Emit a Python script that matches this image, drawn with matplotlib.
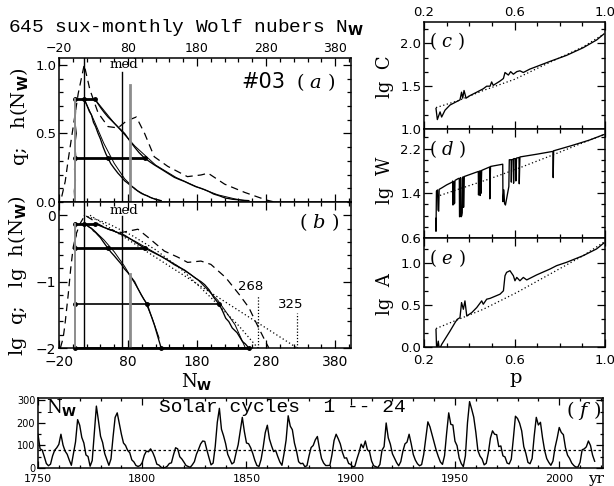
import numpy as np
import matplotlib
matplotlib.use("Agg")
import matplotlib.pyplot as plt
from matplotlib.ticker import FixedLocator, MultipleLocator

plt.rcParams["font.family"] = "DejaVu Sans"
plt.rcParams["mathtext.fontset"] = "custom"
plt.rcParams["mathtext.rm"] = "DejaVu Serif"
plt.rcParams["mathtext.it"] = "DejaVu Serif:italic"
plt.rcParams["mathtext.bf"] = "DejaVu Sans:bold"

# ---------------------------------------------------------------- data
# panel (a): dashed histogram h(N_W), linear
dash_a_n = [-16, -11, -6.6, 0.6, 7.8, 16.5, 24.7, 36.6, 51, 65.4, 77.5, 92, 104,
            118, 137.5, 166, 185.6, 196, 220, 249, 280, 292]
dash_a_h = [0.04, 0.15, 0.31, 0.55, 0.79, 1.0, 0.82, 0.65, 0.55, 0.54, 0.59, 0.62,
            0.50, 0.33, 0.26, 0.185, 0.197, 0.21, 0.13, 0.07, 0.015, 0.0]
# panel (b): the same histogram, lg scale
dash_b_n = [-18, -14, -11.4, -6.6, -3, 0.6, 5, 10.3, 17.5, 27, 36.6, 51, 70.3, 94.3,
            108.7, 132.7, 151.9, 166.3, 185.6, 200, 221.6, 240.8, 255, 267, 279, 284]
dash_b_lg = [-2.0, -1.85, -1.65, -1.19, -0.8, -0.48, -0.28, -0.13, 0.0, -0.06, -0.13,
             -0.21, -0.26, -0.21, -0.33, -0.54, -0.63, -0.71, -0.69, -0.74, -0.94,
             -1.19, -1.39, -1.65, -1.9, -2.0]

# q curves
q_left_n = [3, 2.2, 3.8, 2.5, 4.4, 3, 5, 3.2, 4, 3, 3]
q_left_h = [0.0, 0.08, 0.16, 0.24, 0.32, 0.42, 0.5, 0.58, 0.66, 0.72, 0.75]
inner_n = [16.5, 20, 24, 27, 30, 33, 36.6, 40, 44, 48, 51, 55, 60, 65.4, 70, 75, 79.9,
           85, 89.5, 94, 99.2, 103, 107.8, 112, 118.3, 123, 128]
inner_h = [0.75, 0.71, 0.66, 0.635, 0.58, 0.55, 0.50, 0.46, 0.40, 0.35, 0.32, 0.28,
           0.245, 0.21, 0.185, 0.155, 0.136, 0.115, 0.100, 0.080, 0.063, 0.054,
           0.0457, 0.034, 0.022, 0.015, 0.010]
inner_fit_n = [16.5, 30, 45, 60, 75, 90, 105, 115, 125]
inner_fit_lg = [-0.125, -0.22, -0.37, -0.55, -0.77, -1.03, -1.30, -1.55, -1.85]
outer_n = [31.9, 36, 41.5, 46, 51, 57, 63, 69, 75, 82, 89.5, 96, 104, 111, 118.3, 128,
           137.5, 147, 154, 161.6, 170, 178, 185.6, 191, 197.6, 204, 212, 217, 221.6,
           226, 231, 238, 245.6, 250, 255]
outer_h = [0.75, 0.72, 0.68, 0.65, 0.62, 0.59, 0.56, 0.53, 0.50, 0.45, 0.40, 0.36,
           0.32, 0.295, 0.27, 0.24, 0.21, 0.18, 0.165, 0.15, 0.13, 0.112, 0.10, 0.09,
           0.075, 0.058, 0.0457, 0.036, 0.028, 0.025, 0.020, 0.017, 0.0126, 0.0115,
           0.010]
outer_fit_n = [31.9, 60, 90, 120, 150, 180, 210, 235, 250]
outer_fit_lg = [-0.125, -0.24, -0.39, -0.57, -0.75, -0.96, -1.28, -1.65, -2.0]

# levels of the horizontal cuts and where they meet the curves
cut_h = [0.75, 0.32, 0.0457, 0.01]
cut_mid = [16.5, 51, 107.8, 128]
cut_end = [31.9, 104, 212, 255]
cut_start = 3

# model lines in (b)
fit_a_n = [25, 325]
fit_a_lg = [0.0, -2.0]
fit_b_n = [16, 50, 85, 120, 160, 200, 240, 268]
fit_b_lg = [0.0, -0.12, -0.30, -0.52, -0.84, -1.24, -1.66, -2.0]
n_max = [268, 325]
n_max_top = [-1.2, -1.47]

n_low, n_peak, n_med, n_mean = 3, 16.5, 71.8, 82.3

# panels (c)-(e): lg C, lg W, lg A versus p
c_p = [0.253, 0.259, 0.271, 0.278, 0.293, 0.315, 0.344, 0.359, 0.366, 0.371, 0.377,
       0.386, 0.403, 0.433, 0.462, 0.477, 0.492, 0.499, 0.506, 0.536, 0.551, 0.558,
       0.573, 0.583, 0.595, 0.61, 0.624, 0.639, 0.668, 0.698, 0.757, 0.83, 0.904,
       0.963, 0.995]
c_lg = [1.24, 1.11, 1.20, 1.14, 1.22, 1.28, 1.32, 1.34, 1.43, 1.36, 1.45, 1.36, 1.39,
        1.43, 1.47, 1.50, 1.50, 1.55, 1.51, 1.56, 1.59, 1.66, 1.63, 1.67, 1.64, 1.67,
        1.68, 1.66, 1.70, 1.73, 1.79, 1.86, 1.95, 2.04, 2.11]
c_fit_p = [0.253, 0.35, 0.462, 0.6, 0.757, 0.904, 0.995]
c_fit_lg = [1.25, 1.33, 1.45, 1.58, 1.78, 1.96, 2.11]

d_p = [0.252, 0.253, 0.255, 0.26, 0.262, 0.265, 0.267, 0.28, 0.30, 0.325, 0.327, 0.328,
       0.329, 0.331, 0.333, 0.335, 0.337, 0.35, 0.356, 0.357, 0.36, 0.362, 0.364,
       0.367, 0.369, 0.371, 0.374, 0.375, 0.378, 0.44, 0.441, 0.443, 0.447, 0.448,
       0.451, 0.452, 0.455, 0.49, 0.491, 0.494, 0.548, 0.549, 0.553, 0.556, 0.56,
       0.565, 0.575, 0.577, 0.585, 0.586, 0.588, 0.595, 0.596, 0.598, 0.605, 0.606,
       0.609, 0.62, 0.621, 0.624, 0.70, 0.77, 0.771, 0.773, 0.85, 0.93, 0.995]
d_lg = [0.95, 0.72, 1.44, 1.46, 1.10, 1.08, 1.47, 1.50, 1.55, 1.60, 1.62, 1.19, 1.60,
        1.20, 1.61, 1.22, 1.63, 1.66, 1.67, 0.98, 1.00, 1.68, 0.98, 1.00, 1.05, 1.69,
        1.69, 1.15, 1.70, 1.79, 1.37, 1.79, 1.80, 1.36, 1.80, 1.40, 1.81, 1.87, 1.30,
        1.88, 1.92, 1.25, 1.46, 1.22, 1.19, 1.30, 1.52, 2.0, 2.0, 1.60, 2.0, 2.01,
        1.58, 2.02, 2.02, 1.62, 2.03, 2.04, 1.57, 2.05, 2.10, 2.15, 1.68, 2.16, 2.25,
        2.35, 2.45]
d_fit_p = [0.255, 0.35, 0.477, 0.6, 0.772, 0.9, 0.995]
d_fit_lg = [1.34, 1.47, 1.64, 1.82, 2.09, 2.30, 2.45]

e_p = [0.253, 0.256, 0.263, 0.268, 0.278, 0.315, 0.337, 0.347, 0.359, 0.366, 0.374,
       0.381, 0.389, 0.411, 0.433, 0.455, 0.462, 0.477, 0.492, 0.536, 0.551, 0.558,
       0.565, 0.58, 0.595, 0.602, 0.61, 0.624, 0.639, 0.654, 0.676, 0.698, 0.757,
       0.786, 0.83, 0.904, 0.963, 0.995]
e_lg = [0.21, -0.05, 0.07, -0.03, 0.03, 0.19, 0.29, 0.33, 0.35, 0.53, 0.45, 0.55, 0.37,
        0.41, 0.47, 0.55, 0.51, 0.57, 0.58, 0.63, 0.67, 0.85, 0.89, 0.91, 0.85, 0.79,
        0.83, 0.79, 0.83, 0.80, 0.83, 0.86, 0.93, 0.97, 1.01, 1.09, 1.17, 1.24]
e_fit_p = [0.253, 0.389, 0.462, 0.61, 0.757, 0.904, 0.995]
e_fit_lg = [0.22, 0.37, 0.45, 0.65, 0.87, 1.09, 1.25]

# panel (f): Wolf numbers, solar cycles 1-24
years = np.arange(1750, 2018)
wolf = [150, 85, 80, 51, 20, 10, 17, 54, 79, 90,
        105, 150, 102, 75, 61, 35, 12, 63, 116, 215,
        190, 136, 111, 58, 51, 8, 33, 154, 275, 210,
        141, 113, 64, 38, 12, 40, 138, 225, 245, 197,
        150, 111, 100, 78, 68, 36, 27, 11, 7, 11,
        24, 57, 75, 72, 85, 70, 47, 17, 13, 4,
        0, 2, 8, 20, 23, 59, 90, 85, 50, 40,
        26, 11, 7, 3, 14, 28, 61, 83, 107, 120,
        118, 80, 46, 14, 22, 95, 203, 265, 172, 143,
        108, 61, 40, 18, 25, 67, 103, 164, 225, 161,
        111, 108, 90, 65, 34, 11, 7, 38, 92, 157,
        190, 129, 99, 73, 78, 51, 27, 12, 63, 124,
        232, 186, 170, 111, 75, 28, 19, 21, 6, 10,
        54, 91, 100, 125, 140, 87, 42, 22, 11, 11,
        12, 59, 122, 150, 130, 107, 70, 44, 45, 20,
        16, 5, 8, 41, 70, 106, 90, 120, 81, 73,
        31, 10, 6, 2, 16, 79, 95, 200, 134, 106,
        63, 44, 24, 10, 28, 74, 107, 115, 150, 108,
        60, 35, 19, 10, 15, 60, 133, 205, 183, 148,
        113, 79, 51, 27, 16, 55, 155, 245, 194, 191,
        119, 99, 45, 20, 6, 54, 201, 295, 262, 226,
        159, 77, 53, 40, 14, 21, 67, 133, 165, 150,
        148, 95, 98, 54, 49, 22, 18, 39, 131, 230,
        220, 199, 165, 95, 65, 25, 19, 42, 142, 225,
        191, 203, 134, 78, 42, 25, 12, 31, 91, 132,
        180, 158, 148, 90, 57, 42, 22, 11, 4, 5,
        25, 81, 85, 94, 120, 100, 57, 30]
wolf_mean = 82

# ---------------------------------------------------------------- layout
W, H = 614, 486
fig = plt.figure(figsize=(W / 100, H / 100), dpi=100)
GREY = "0.55"
SERIF = "DejaVu Serif"
MONO = "Liberation Mono"
NW = r"N$_{\mathbf{W}}$"
LW = 0.95


def box(left, top, right, bottom):
    return fig.add_axes([left / W, 1 - bottom / H, (right - left) / W, (bottom - top) / H])


def style(ax, size=9.5):
    for s in ax.spines.values():
        s.set_linewidth(1.1)
    ax.tick_params(which="both", direction="in", top=True, right=True,
                   labelsize=size, width=0.9, pad=2)
    ax.tick_params(which="major", length=6)
    ax.tick_params(which="minor", length=3)


def ftext(x, y, s, **kw):
    fig.text(x / W, 1 - y / H, s, **kw)


ftext(8, 27, "645 sux-monthly Wolf nubers " + NW, family=MONO, fontsize=14,
      ha="left", va="center")

nx_major = FixedLocator(np.arange(-20, 401, 100))
nx_minor = FixedLocator(np.arange(-20, 403, 20))

# (a) linear
ax_a = box(59, 58, 351, 202)
ax_a.plot(dash_a_n, dash_a_h, color="k", lw=0.9, dashes=(6, 4))
ax_a.plot(q_left_n, q_left_h, color="k", lw=0.9)
ax_a.plot(inner_n, inner_h, color="k", lw=LW)
ax_a.plot(inner_fit_n, 10 ** np.array(inner_fit_lg), color="k", lw=0.7)
ax_a.plot(outer_n, outer_h, color="k", lw=LW)
ax_a.plot(outer_fit_n, 10 ** np.array(outer_fit_lg), color="k", lw=0.7)
for lev, mid, end in zip(cut_h[:2], cut_mid[:2], cut_end[:2]):
    ax_a.plot([cut_start, end], [lev, lev], color="k", lw=2.0)
    ax_a.plot([cut_start, mid, end], [lev] * 3, "o", color="k", ms=2.5)
ax_a.plot([n_low, n_low], [0, cut_h[0]], color=GREY, lw=1.4)
ax_a.axvline(n_peak, color="k", lw=1.0)
ax_a.plot([n_med, n_med], [0, 0.95], color="k", lw=1.0)
ax_a.plot([n_mean, n_mean], [0, 0.855], color=GREY, lw=2.0)
ax_a.text(n_med + 2, 1.0, "med", family=SERIF, fontsize=9.5, ha="center", va="center")
ax_a.set_xlim(-20, 403)
ax_a.set_ylim(0, 1.05)
ax_a.xaxis.set_major_locator(nx_major)
ax_a.xaxis.set_minor_locator(nx_minor)
ax_a.yaxis.set_major_locator(FixedLocator([0.0, 0.5, 1.0]))
ax_a.yaxis.set_minor_locator(MultipleLocator(0.1))
ax_a.set_yticklabels(["0.0", "0.5", "1.0"])
style(ax_a)
ax_a.tick_params(labeltop=True, labelbottom=False)
ax_a.tick_params(axis="x", labelsize=9)
ax_a.text(0.70, 0.83, "#03", transform=ax_a.transAxes, fontsize=15, ha="center",
          va="center")
ax_a.text(0.88, 0.83, r"( $\it{a}$ )", transform=ax_a.transAxes, fontsize=14,
          family=SERIF, ha="center", va="center")

# (b) lg scale
ax_b = box(59, 202, 351, 348)
ax_b.plot(dash_b_n, dash_b_lg, color="k", lw=0.9, dashes=(6, 4))
q_left_pos = np.array(q_left_h)
ax_b.plot(np.array(q_left_n)[q_left_pos >= 0.3], np.log10(q_left_pos[q_left_pos >= 0.3]),
          color="k", lw=0.9)
ax_b.plot(inner_n, np.log10(inner_h), color="k", lw=LW)
ax_b.plot(inner_fit_n, inner_fit_lg, color="k", lw=0.7)
ax_b.plot(outer_n, np.log10(outer_h), color="k", lw=LW)
ax_b.plot(outer_fit_n, outer_fit_lg, color="k", lw=0.7)
ax_b.plot(fit_a_n, fit_a_lg, color="k", lw=0.9, ls=(0, (1, 2)))
ax_b.plot(fit_b_n, fit_b_lg, color="k", lw=0.9, ls=(0, (1, 2)))
for lev, mid, end in zip(cut_h, cut_mid, cut_end):
    lw = 1.2 if lev == cut_h[2] else 2.0
    ax_b.plot([cut_start, end], [np.log10(lev)] * 2, color="k", lw=lw, clip_on=False)
    ax_b.plot([cut_start, mid, end], [np.log10(lev)] * 3, "o", color="k", ms=2.5,
              clip_on=False)
ax_b.plot([n_low, n_low], [-2, np.log10(cut_h[0])], color=GREY, lw=1.4)
ax_b.axvline(n_peak, color="k", lw=1.0)
ax_b.plot([n_med, n_med], [-2, -0.01], color="k", lw=1.0)
ax_b.plot([n_mean, n_mean], [-2, -0.89], color=GREY, lw=2.0)
ax_b.text(n_med + 2, 0.07, "med", family=SERIF, fontsize=9.5, ha="center", va="center")
for n, top in zip(n_max, n_max_top):
    ax_b.plot([n, n], [-2, top], color="k", lw=0.9, ls=(0, (1, 1.5)))
    ax_b.text(n - 10, top + 0.03, str(n), fontsize=9.5, ha="center", va="bottom")
ax_b.set_xlim(-20, 403)
ax_b.set_ylim(-2, 0.2)
ax_b.xaxis.set_major_locator(nx_major)
ax_b.xaxis.set_minor_locator(nx_minor)
ax_b.yaxis.set_major_locator(FixedLocator([-2, -1, 0]))
ax_b.yaxis.set_minor_locator(MultipleLocator(0.2))
ax_b.set_yticklabels(["\u22122", "\u22121", "0"])
style(ax_b, 10)
ax_b.tick_params(axis="x", pad=5)
ax_b.text(0.89, 0.86, r"( $\it{b}$ )", transform=ax_b.transAxes, fontsize=14,
          family=SERIF, ha="center", va="center")

ftext(20, 117, "q;   h(" + NW + ")", family=SERIF, fontsize=14, rotation=90,
      ha="center", va="center")
ftext(18, 276, "lg  q;   lg  h(" + NW + ")", family=SERIF, fontsize=14, rotation=90,
      ha="center", va="center")
ftext(197, 381, NW, family=SERIF, fontsize=13, ha="center", va="center")

# (c) - (e)
right = [
    (22, 129, c_p, c_lg, c_fit_p, c_fit_lg, (1.0, 2.25), [1.0, 1.5, 2.0], 0.5 / 3,
     "c", "lg  C", 77),
    (129, 238, d_p, d_lg, d_fit_p, d_fit_lg, (0.6, 2.55), [0.6, 1.4, 2.2], 0.2,
     "d", "lg  W", 180),
    (238, 347, e_p, e_lg, e_fit_p, e_fit_lg, (0.0, 1.3), [0.0, 0.5, 1.0], 0.5 / 3,
     "e", "lg  A", 294),
]
for i, (top, bot, px, py, fx, fy, ylim, yt, ymin, tag, lab, ly) in enumerate(right):
    ax = box(424, top, 605, bot)
    ax.plot(px, py, color="k", lw=LW)
    ax.plot(fx, fy, color="k", lw=0.9, ls=(0, (1, 2)))
    ax.set_xlim(0.2, 1.0)
    ax.set_ylim(*ylim)
    ax.xaxis.set_major_locator(FixedLocator([0.2, 0.6, 1.0]))
    ax.xaxis.set_minor_locator(MultipleLocator(0.1))
    ax.yaxis.set_major_locator(FixedLocator(yt))
    ax.yaxis.set_minor_locator(MultipleLocator(ymin))
    ax.set_yticklabels([f"{v:.1f}" for v in yt])
    style(ax)
    ax.set_xticklabels(["0.2", "0.6", "1.0"])
    ax.tick_params(labeltop=(i == 0), labelbottom=(i == 2))
    if i == 2:
        ax.tick_params(axis="x", pad=5)
    ax.text(0.13, 0.82, rf"( $\it{{{tag}}}$ )", transform=ax.transAxes, fontsize=13,
            family=SERIF, ha="center", va="center")
    ftext(385, ly, lab, family=SERIF, fontsize=13, rotation=90, ha="center",
          va="center")
ftext(516, 378, "p", family=SERIF, fontsize=14, ha="center", va="center")

# (f) time series
ax_f = box(38, 398, 603, 468)
ax_f.plot(years, wolf, color="k", lw=1.0)
ax_f.axhline(wolf_mean, color="k", lw=0.9, ls=(0, (2, 2)))
ax_f.set_xlim(1750, 2021)
ax_f.set_ylim(0, 311)
ax_f.xaxis.set_major_locator(MultipleLocator(50))
ax_f.xaxis.set_minor_locator(MultipleLocator(10))
ax_f.yaxis.set_major_locator(MultipleLocator(100))
ax_f.yaxis.set_minor_locator(MultipleLocator(50))
style(ax_f, 7)
ax_f.tick_params(which="major", length=5)
ax_f.tick_params(which="minor", length=2.5)
ax_f.tick_params(axis="x", labelsize=8, pad=4)
ax_f.text(0.015, 0.86, NW, transform=ax_f.transAxes, family=SERIF, fontsize=13,
          ha="left", va="center")
ax_f.text(0.432, 0.86, "Solar cycles  1 -- 24", transform=ax_f.transAxes,
          family=MONO, fontsize=14, ha="center", va="center")
ax_f.text(0.965, 0.82, r"( $\it{f}$ )", transform=ax_f.transAxes, fontsize=14,
          family=SERIF, ha="center", va="center")
ftext(596, 479, "yr", family=SERIF, fontsize=11, ha="center", va="center")

fig.savefig("out.png", dpi=100)
